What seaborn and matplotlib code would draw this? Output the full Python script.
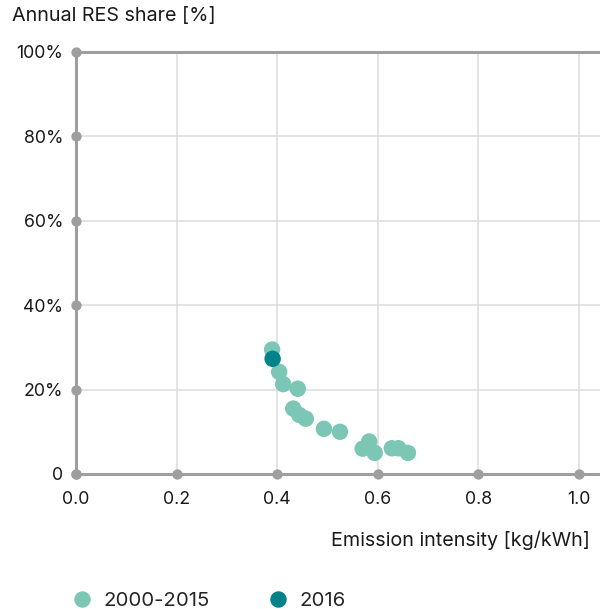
import matplotlib.pyplot as plt
import pandas as pd
import seaborn as sns

# values
intensity_hist = [0.390, 0.404, 0.412, 0.441, 0.432, 0.444, 0.457, 0.493,
                  0.525, 0.570, 0.583, 0.594, 0.628, 0.641, 0.660]
res_share_hist = [29.5, 24.2, 21.3, 20.2, 15.5, 14.0, 13.1, 10.7,
                  10.0, 6.0, 7.7, 5.0, 6.1, 6.1, 5.0]
intensity_2016 = [0.391]
res_share_2016 = [27.3]

x_ticks = [0.0, 0.2, 0.4, 0.6, 0.8, 1.0]
y_ticks = [0, 20, 40, 60, 80, 100]
y_tick_labels = ['0', '20%', '40%', '60%', '80%', '100%']

light = '#7cc6b6'
dark = '#00828b'
axis_grey = '#9e9e9e'
grid_grey = '#dcdcdc'

df = pd.DataFrame({
    'intensity': intensity_hist + intensity_2016,
    'share': res_share_hist + res_share_2016,
    'period': ['2000-2015'] * len(intensity_hist) + ['2016'] * len(intensity_2016),
})

sns.set_style('white')
plt.rcParams['font.family'] = ['Inter', 'DejaVu Sans']

fig = plt.figure(figsize=(6.0, 6.09), dpi=100)
ax = fig.add_axes([76 / 600, 1 - 474 / 609, 1 - 76 / 600, (474 - 52) / 609])

sns.scatterplot(data=df, x='intensity', y='share', hue='period',
                palette={'2000-2015': light, '2016': dark},
                s=140, linewidth=0, ax=ax, zorder=3, clip_on=False)

ax.set_xlim(0, 1.042)
ax.set_ylim(0, 100)
ax.set_xticks(x_ticks)
ax.set_xticklabels([f'{v:.1f}' for v in x_ticks])
ax.set_yticks(y_ticks)
ax.set_yticklabels(y_tick_labels)
ax.set_xlabel('')
ax.set_ylabel('')

ax.grid(True, color=grid_grey, linewidth=1.1)
ax.set_axisbelow(True)
for side in ['left', 'bottom', 'top']:
    ax.spines[side].set_visible(True)
    ax.spines[side].set_color(axis_grey)
    ax.spines[side].set_linewidth(2.2)
ax.spines['right'].set_visible(False)

ax.tick_params(axis='x', labelsize=12.8, colors='#1a1a1a', pad=12, length=0)
ax.tick_params(axis='y', labelsize=12.8, colors='#1a1a1a', pad=9, length=0)

# tick marks drawn as grey dots on the axis lines
ax.scatter(x_ticks, [0] * len(x_ticks), s=55, color=axis_grey, linewidth=0,
           zorder=4, clip_on=False)
ax.scatter([0] * len(y_ticks), y_ticks, s=55, color=axis_grey, linewidth=0,
           zorder=4, clip_on=False)

fig.text(12 / 600, 1 - 16 / 609, 'Annual RES share [%]', fontsize=14.2,
         color='#1a1a1a', ha='left', va='center')
fig.text(590 / 600, 1 - 540 / 609, 'Emission intensity [kg/kWh]', fontsize=14.2,
         color='#1a1a1a', ha='right', va='center')

sns.move_legend(ax, 'center left', bbox_to_anchor=(72 / 600, 1 - 601 / 609),
                bbox_transform=fig.transFigure, ncol=2, frameon=False, title=None,
                fontsize=14.7, borderpad=0, borderaxespad=0, handlelength=1.0,
                handletextpad=0.55, columnspacing=2.85, markerscale=1.0)

fig.savefig('out.png', dpi=100)
